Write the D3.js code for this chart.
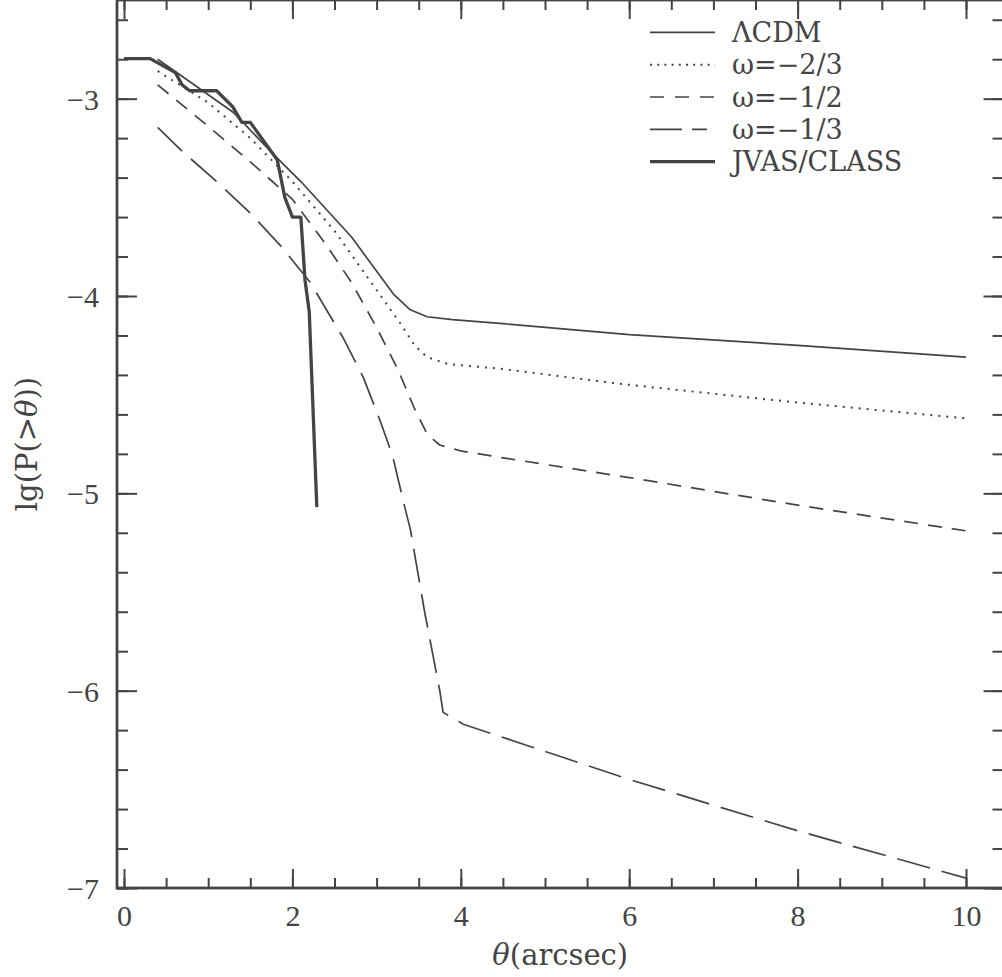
<!DOCTYPE html>
<html><head><meta charset="utf-8">
<script src="https://cdn.jsdelivr.net/npm/d3@7"></script>
<style>body{margin:0;background:#fff;} svg{display:block}</style>
</head><body><svg id="c" width="1002" height="977"></svg>
<script>
// ---- data ----
const thetaLCDM = [0.4, 0.6, 0.9, 1.3, 1.77, 2.1, 2.7, 3.2, 3.4, 3.6, 3.9, 4.5, 6, 8, 10];
const lgLCDM    = [-2.80, -2.86, -2.95, -3.07, -3.28, -3.42, -3.70, -3.99, -4.07, -4.105, -4.12, -4.14, -4.196, -4.25, -4.31];

const thetaW23 = [0.4, 1.0, 1.5, 2.0, 2.5, 2.7, 3.0, 3.3, 3.45, 3.6, 3.85, 4.5, 6, 8, 10];
const lgW23    = [-2.86, -3.02, -3.20, -3.42, -3.67, -3.79, -3.97, -4.15, -4.25, -4.31, -4.345, -4.37, -4.45, -4.54, -4.62];

const thetaW12 = [0.4, 1.0, 1.5, 2.0, 2.4, 2.7, 3.0, 3.25, 3.45, 3.6, 3.75, 4.0, 4.5, 6, 8, 10];
const lgW12    = [-2.93, -3.14, -3.32, -3.51, -3.74, -3.93, -4.16, -4.37, -4.57, -4.70, -4.755, -4.785, -4.82, -4.92, -5.06, -5.19];

const thetaW13 = [0.4, 0.7, 1.1, 1.5, 1.88, 2.21, 2.6, 2.84, 3.04, 3.19, 3.34, 3.4, 3.57, 3.75, 3.79, 4.03, 6, 8, 10];
const lgW13    = [-3.145, -3.27, -3.42, -3.58, -3.755, -3.93, -4.21, -4.41, -4.63, -4.81, -5.08, -5.18, -5.60, -6.00, -6.11, -6.17, -6.45, -6.71, -6.95];

const thetaJVAS = [0, 0.31, 0.61, 0.69, 0.78, 1.10, 1.29, 1.40, 1.50, 1.77, 1.82, 1.91, 2.00, 2.10, 2.15, 2.20, 2.29];
const lgJVAS    = [-2.797, -2.797, -2.868, -2.93, -2.96, -2.96, -3.04, -3.12, -3.12, -3.28, -3.31, -3.50, -3.60, -3.60, -3.92, -4.08, -5.07];

const seriesNames = ["ΛCDM", "ω=−2/3", "ω=−1/2", "ω=−1/3", "JVAS/CLASS"];
const xMajorTicks = [0, 2, 4, 6, 8, 10];
const xTickLabels = ["0", "2", "4", "6", "8", "10"];
const yMajorTicks = [-7, -6, -5, -4, -3];
const yTickLabels = ["−7", "−6", "−5", "−4", "−3"];
const xLabel = "(arcsec)";
const yLabel = ["lg(P(>", "θ", "))"];

// ---- layout ----
const INK = "#444";
const L = 117, R = 1003.5, T = 0, B = 888;
const x = d3.scaleLinear().domain([-0.08314, 10.4454]).range([L, R]);
const y = d3.scaleLinear().domain([-7, -2.5]).range([B, T]);
const svg = d3.select("#c");

const xMinor = d3.range(0, 21).map(i => i * 0.5);
const yMinor = d3.range(0, 23).map(i => -7 + i * 0.2);

function styleAxis(g) {
  g.select(".domain").remove();
  g.selectAll(".tick line").attr("stroke", INK).attr("stroke-width", 2);
}

// bottom
svg.append("g").attr("transform", `translate(0,${B})`)
  .call(d3.axisBottom(x).tickValues(xMinor).tickSizeInner(-10).tickSizeOuter(0).tickFormat(""))
  .call(styleAxis);
const gb = svg.append("g").attr("transform", `translate(0,${B})`)
  .call(d3.axisBottom(x).tickValues(xMajorTicks).tickSizeInner(-19).tickSizeOuter(0)
    .tickFormat((d, i) => xTickLabels[i]))
  .call(styleAxis);
gb.selectAll(".tick text").attr("y", 38).attr("dy", 0)
  .attr("fill", INK).style("font-family", "'Liberation Serif', serif").style("font-size", "30px");

// top
svg.append("g").attr("transform", `translate(0,${T})`)
  .call(d3.axisTop(x).tickValues(xMinor).tickSizeInner(-10).tickSizeOuter(0).tickFormat(""))
  .call(styleAxis);
svg.append("g").attr("transform", `translate(0,${T})`)
  .call(d3.axisTop(x).tickValues(xMajorTicks).tickSizeInner(-19).tickSizeOuter(0).tickFormat(""))
  .call(styleAxis);

// left
svg.append("g").attr("transform", `translate(${L},0)`)
  .call(d3.axisLeft(y).tickValues(yMinor).tickSizeInner(-11).tickSizeOuter(0).tickFormat(""))
  .call(styleAxis);
const gl = svg.append("g").attr("transform", `translate(${L},0)`)
  .call(d3.axisLeft(y).tickValues(yMajorTicks).tickSizeInner(-20).tickSizeOuter(0)
    .tickFormat((d, i) => yTickLabels[i]))
  .call(styleAxis);
gl.selectAll(".tick text").attr("x", -18).attr("y", 10.5).attr("dy", 0)
  .attr("text-anchor", "end")
  .attr("fill", INK).style("font-family", "'Liberation Serif', serif").style("font-size", "30px");

// right
svg.append("g").attr("transform", `translate(${R},0)`)
  .call(d3.axisRight(y).tickValues(yMinor).tickSizeInner(-11).tickSizeOuter(0).tickFormat(""))
  .call(styleAxis);
svg.append("g").attr("transform", `translate(${R},0)`)
  .call(d3.axisRight(y).tickValues(yMajorTicks).tickSizeInner(-20).tickSizeOuter(0).tickFormat(""))
  .call(styleAxis);

// frame
svg.append("rect").attr("x", L).attr("y", T).attr("width", R - L).attr("height", B - T)
  .attr("fill", "none").attr("stroke", INK).attr("stroke-width", 2.8);

// curves
const series = [
  {xs: thetaLCDM, ys: lgLCDM, w: 1.7, dash: null},
  {xs: thetaW23, ys: lgW23, w: 2, dash: "2,6"},
  {xs: thetaW12, ys: lgW12, w: 1.7, dash: "14,10"},
  {xs: thetaW13, ys: lgW13, w: 1.7, dash: "34,12"},
  {xs: thetaJVAS, ys: lgJVAS, w: 3.3, dash: null}
];
const line = d3.line().x(d => x(d[0])).y(d => y(d[1]));
series.forEach(s => {
  const pts = s.xs.map((v, i) => [v, s.ys[i]]);
  svg.append("path").datum(pts).attr("d", line)
    .attr("fill", "none").attr("stroke", INK).attr("stroke-width", s.w)
    .attr("stroke-linejoin", "round")
    .attr("stroke-dasharray", s.dash);
});

// legend
const legDash = [null, "2,5.2", "14,11", "32,10,15,100", null];
const legW = [1.7, 2, 1.7, 1.7, 3.3];
seriesNames.forEach((name, i) => {
  const ry = 32.3 + i * 32.35;
  svg.append("line").attr("x1", 650).attr("x2", 715).attr("y1", ry).attr("y2", ry)
    .attr("stroke", INK).attr("stroke-width", legW[i]).attr("stroke-dasharray", legDash[i]);
  svg.append("text").attr("x", 732).attr("y", ry + 9.5).text(name)
    .attr("fill", INK).style("font-family", "'DejaVu Serif', serif").style("font-size", "27px");
});

// axis titles
const xt = svg.append("text").attr("x", (L + R) / 2).attr("y", 965).attr("text-anchor", "middle")
  .attr("fill", INK).style("font-family", "'DejaVu Serif', serif").style("font-size", "29px");
xt.append("tspan").style("font-style", "italic").text("θ");
xt.append("tspan").text(xLabel);

const yt = svg.append("text").attr("transform", `translate(37,${(T + B) / 2}) rotate(-90)`)
  .attr("text-anchor", "middle")
  .attr("fill", INK).style("font-family", "'DejaVu Serif', serif").style("font-size", "29px");
yt.append("tspan").text(yLabel[0]);
yt.append("tspan").style("font-style", "italic").text(yLabel[1]);
yt.append("tspan").text(yLabel[2]);
</script>
</body></html>
